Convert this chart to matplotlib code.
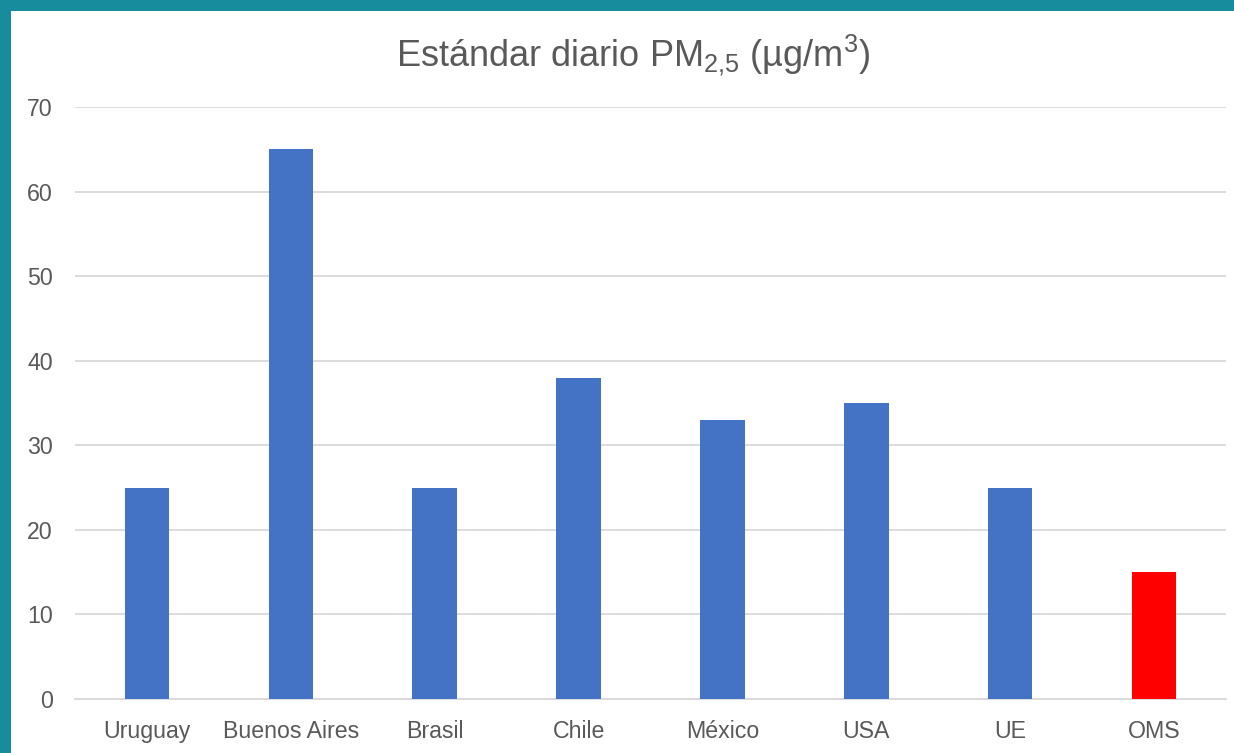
import matplotlib
matplotlib.use('Agg')

import matplotlib.pyplot as plt
from matplotlib.patches import Rectangle

# Daily PM2.5 standards (µg/m3)
categories = ["Uruguay", "Buenos Aires", "Brasil", "Chile", "México", "USA", "UE", "OMS"]
values = [25, 65, 25, 38, 33, 35, 25, 15]
bar_colors = ["#4472C4"] * 7 + ["#FF0000"]
y_ticks = [0, 10, 20, 30, 40, 50, 60, 70]

plt.rcParams['font.family'] = ['Liberation Sans', 'DejaVu Sans']
plt.rcParams['mathtext.fontset'] = 'custom'
plt.rcParams['mathtext.rm'] = 'Liberation Sans'

W, H = 1234, 753
fig = plt.figure(figsize=(W / 100, H / 100), dpi=100)
fig.patch.set_facecolor('white')

# teal frame along the top and left edges
teal = '#178C9C'
fig.patches.append(Rectangle((0, 1 - 11 / H), 1, 11 / H, transform=fig.transFigure,
                             facecolor=teal, edgecolor='none', zorder=0))
fig.patches.append(Rectangle((0, 0), 11 / W, 1, transform=fig.transFigure,
                             facecolor=teal, edgecolor='none', zorder=0))

ax = fig.add_axes([75 / W, 1 - 699 / H, (1226 - 75) / W, (699 - 107) / H])
x = range(len(categories))
ax.bar(x, values, width=0.31, color=bar_colors, zorder=3)

ax.set_xlim(-0.5, len(categories) - 0.5)
ax.set_ylim(0, 70)
ax.set_yticks(y_ticks)
ax.set_xticks(list(x))
ax.set_xticklabels(categories)

ax.grid(axis='y', color='#D9D9D9', linewidth=1.3, zorder=0)
for side in ('top', 'right', 'left'):
    ax.spines[side].set_visible(False)
ax.spines['bottom'].set_color('#D9D9D9')
ax.spines['bottom'].set_linewidth(1.3)
ax.tick_params(axis='both', length=0, labelsize=16.7, colors='#595959')
ax.tick_params(axis='y', pad=16)
ax.tick_params(axis='x', pad=15)

fig.text(633 / W, 1 - 55 / H,
         r"Estándar diario PM$_{\mathregular{2{,}5}}$ (µg/m$^{\mathregular{3}}$)",
         ha='center', va='center', fontsize=26, color='#595959')

fig.savefig('out.png', dpi=100)
plt.close(fig)
